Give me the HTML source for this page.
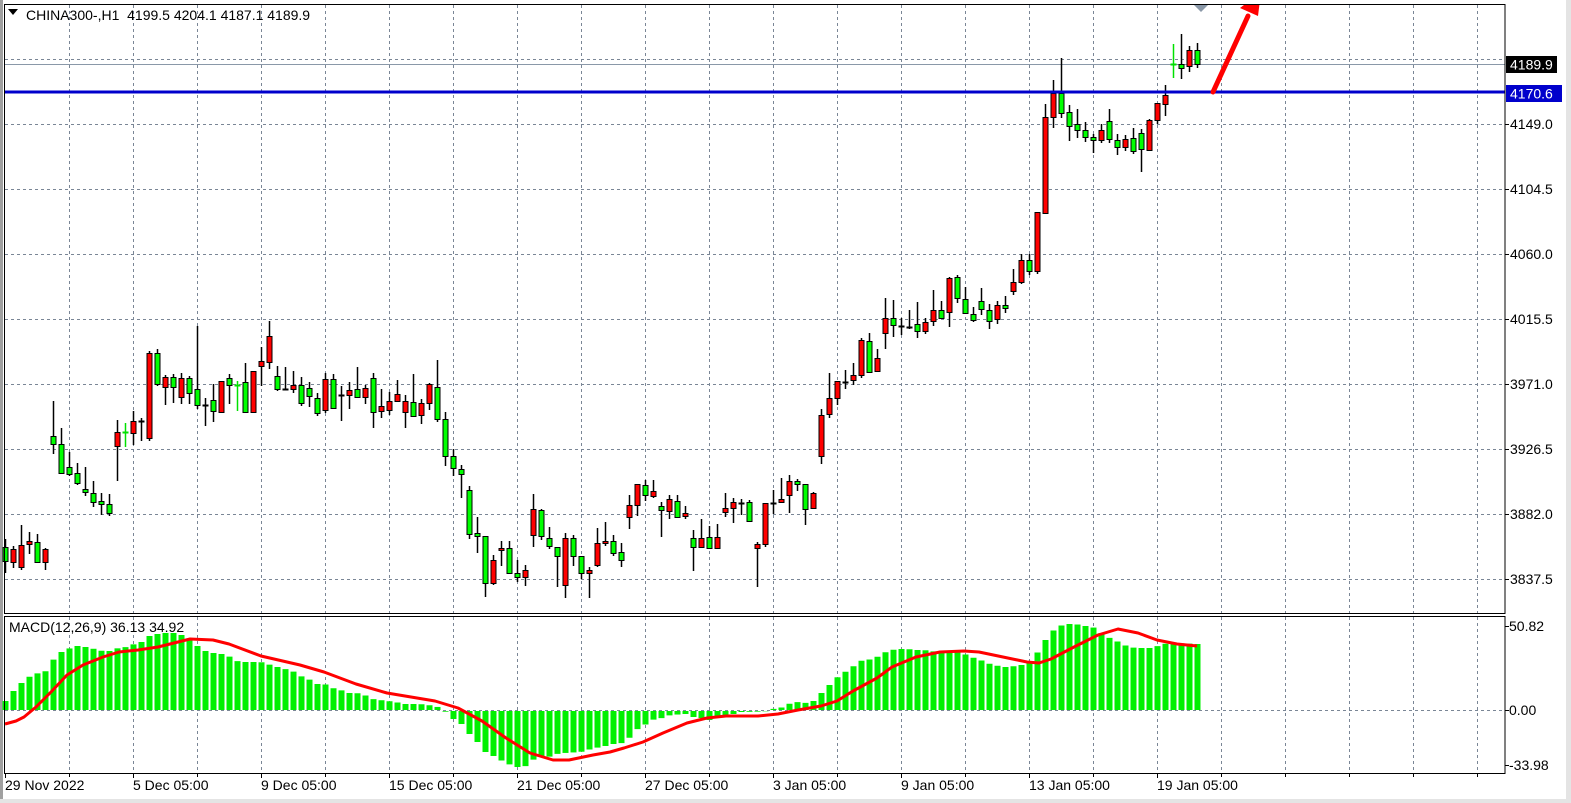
<!DOCTYPE html>
<html><head><meta charset="utf-8"><style>
html,body{margin:0;padding:0;background:#fff;}
svg{display:block;font-family:"Liberation Sans",Tahoma,sans-serif;}
</style></head><body>
<svg id="s" width="1571" height="803" xmlns="http://www.w3.org/2000/svg"></svg>
<script>
const s=document.getElementById('s');
let out='';
out+='<rect x="0" y="0" width="1571" height="803" fill="#fff"/>';
out+='<rect x="0" y="0" width="3" height="803" fill="#a0a0a0"/>';
out+='<rect x="1566" y="0" width="5" height="803" fill="#e4e4e4"/>';
out+='<rect x="0" y="799" width="1571" height="4" fill="#e4e4e4"/>';
const gc='#7a8696';
let g='';
for(let x=69;x<1505;x+=64){
  g+=`<line x1="${x+.5}" y1="5" x2="${x+.5}" y2="613" stroke="${gc}" stroke-dasharray="3,3"/>`;
  g+=`<line x1="${x+.5}" y1="617" x2="${x+.5}" y2="773" stroke="${gc}" stroke-dasharray="3,3"/>`;
}
[59,124,189,254,319,384,449,514,579].forEach(y=>{
  g+=`<line x1="5" y1="${y+.5}" x2="1505" y2="${y+.5}" stroke="${gc}" stroke-dasharray="3,3"/>`;
});
g+=`<line x1="5" y1="710.5" x2="1505" y2="710.5" stroke="${gc}" stroke-dasharray="3,3"/>`;
g+=`<line x1="5" y1="64.5" x2="1505" y2="64.5" stroke="#8a98a8"/>`;
out+=g;
const hk=[[5,9],[13,19],[22,28],[30,34],[38,37],[46,39],[54,52],[61,58],[70,62],[77,64],[85,63],[94,61],[102,59],[109,59],[118,62],[126,63],[134,66],[141,68],[149,74],[157,76],[165,77],[173,77],[181,75],[189,70],[197,64],[205,59],[213,57],[221,56],[228,54],[236,49],[244,48],[260,48],[277,43],[292,39],[300,34],[308,31],[316,26],[324,26],[332,22],[340,20],[348,17],[356,17],[364,15],[372,11],[379,10],[387,9],[395,8],[403,6],[419,6],[427,5],[435,4],[445,-0.7],[453,-8],[461,-13],[469,-23],[477,-31],[485,-41],[493,-45],[500,-49],[508,-53],[516,-56],[524,-56],[532,-49],[540,-46],[548,-46],[556,-43],[564,-42],[580,-41],[587,-39],[595,-37],[605,-35],[613,-33],[622,-32],[630,-26],[638,-17],[646,-13],[654,-8],[662,-7],[670,-4],[685,-3],[693,-6],[701,-7],[709,-9],[717,-6],[725,-4],[733,-3],[741,-1],[764,-0.5],[772,1],[780,2],[788,6],[796,8],[804,7],[812,8],[820,16],[828,24],[836,32],[843,37],[851,42],[859,49],[867,50],[875,52],[883,57],[891,60],[899,61],[907,61],[915,60],[923,60],[930,59],[938,58],[946,59],[954,58],[962,57],[970,53],[978,51],[986,47],[994,45],[1002,43],[1010,43],[1018,45],[1025,45],[1033,51],[1041,64],[1049,76],[1057,83],[1065,86],[1073,86],[1081,85],[1089,83],[1096,82],[1104,74],[1112,71],[1120,67],[1128,63],[1136,62],[1152,62],[1160,65],[1168,67],[1176,66],[1184,67],[1192,66],[1197,66]];
function interp(x){for(let i=0;i<hk.length-1;i++){if(x>=hk[i][0]&&x<=hk[i+1][0]){const t=(x-hk[i][0])/(hk[i+1][0]-hk[i][0]);return hk[i][1]+t*(hk[i+1][1]-hk[i][1]);}}return hk[hk.length-1][1];}
for(let k=0;k<150;k++){const x=5+8*k;const h=interp(x);
  if(h>=0) out+=`<rect x="${x-2.5}" y="${710-h}" width="6" height="${Math.max(h,1)}" fill="#00f000"/>`;
  else out+=`<rect x="${x-2.5}" y="711" width="6" height="${-h}" fill="#00f000"/>`;}
const sg=[[5,724],[16,721],[24,717],[36,707],[51,692],[67,675],[83,665],[103,657],[119,652],[138,650],[158,647],[174,643],[190,639],[213,640],[229,644],[261,656],[300,665],[324,672],[356,684],[387,693],[435,701],[458,708],[482,721],[506,738],[530,753],[553,760],[569,760],[593,755],[610,752],[624,748],[643,742],[663,733],[687,723],[707,718],[726,716],[758,716],[778,714],[798,710],[821,706],[837,701],[853,691],[877,678],[892,667],[916,657],[940,652],[964,651],[979,652],[1003,657],[1027,662],[1039,663],[1051,659],[1074,647],[1098,635],[1118,629],[1138,633],[1157,640],[1177,644],[1197,646]];
out+=`<polyline points="${sg.map(p=>p.join(',')).join(' ')}" fill="none" stroke="#ff0000" stroke-width="3" stroke-linejoin="round"/>`;
const C=[[5,539,573,547,561,'g'],[13,546,568,549,562,'r'],[21,525,570,545,567,'r'],[29,532,554,541,544,'r'],[37,534,562,542,562,'g'],[45,548,570,549,562,'r'],
[53,401,454,436,444,'g'],[61,428,474,444,473,'g'],[69,452,476,467,474,'g'],[77,463,485,473,483,'g'],[85,467,496,489,492,'g'],[93,481,507,493,502,'g'],[101,493,515,501,504,'g'],[109,494,516,504,513,'g'],[117,420,481,432,446,'r'],[125,423,447,432,432,'l'],[133,411,445,421,433,'r'],[141,418,441,421,421,'k'],[149,351,441,353,438,'r'],[157,349,386,353,384,'g'],[165,375,405,377,387,'r'],[173,374,403,377,387,'g'],[181,373,404,378,397,'r'],[189,376,404,378,393,'g'],[197,326,409,389,405,'g'],[205,398,426,405,405,'k'],[213,384,422,400,411,'g'],[221,381,413,381,412,'r'],[229,374,404,378,385,'g'],[237,381,411,385,385,'l'],[245,363,412,382,412,'g'],[253,371,413,371,412,'r'],[261,347,386,361,366,'r'],[269,321,369,336,362,'r'],[277,366,391,376,389,'g'],[285,367,390,389,389,'k'],[293,371,393,385,389,'r'],
[301,377,406,385,403,'g'],[309,382,407,388,396,'g'],[317,393,416,398,413,'g'],[325,373,413,379,410,'r'],[333,374,408,379,408,'g'],[341,386,421,395,395,'k'],[349,382,409,390,395,'r'],[357,367,397,389,397,'g'],[365,385,404,388,397,'r'],[373,373,428,378,412,'g'],[381,389,418,406,411,'r'],[389,392,415,401,410,'r'],[397,380,401,394,401,'r'],[405,395,428,401,412,'r'],[413,374,416,402,416,'g'],[421,399,424,403,415,'r'],[429,383,410,384,403,'r'],[437,360,422,387,419,'g'],[445,412,466,419,456,'g'],[453,449,476,456,468,'g'],[461,465,498,469,474,'g'],[469,486,539,490,534,'g'],[477,517,553,533,536,'g'],[485,536,597,536,583,'g'],[493,555,585,560,583,'r'],[501,541,566,548,550,'r'],[509,541,574,548,573,'g'],[517,560,582,573,577,'g'],[525,565,586,570,577,'r'],[533,494,547,509,535,'r'],[541,509,540,510,536,'g'],[549,527,549,538,546,'g'],[557,547,587,547,556,'g'],[565,533,598,538,585,'r'],[573,535,566,538,556,'g'],[581,556,579,556,573,'g'],[589,567,598,570,573,'r'],
[597,528,567,543,565,'r'],[605,522,546,541,543,'r'],[613,535,556,541,553,'g'],[621,543,567,552,560,'g'],[629,495,529,505,517,'r'],[637,484,516,484,505,'r'],[645,480,501,485,495,'g'],[653,480,498,491,496,'r'],[661,502,537,506,510,'g'],[669,495,519,499,511,'r'],[677,495,518,501,517,'g'],[685,506,519,513,516,'r'],[693,530,571,538,547,'g'],[701,519,547,538,547,'r'],[709,526,549,537,548,'g'],[717,524,549,537,548,'r'],[725,493,517,508,512,'r'],[733,498,523,502,508,'r'],[741,499,515,503,503,'k'],[749,500,521,502,521,'g'],[757,542,587,544,548,'r'],[765,503,547,503,544,'r'],[773,490,514,503,503,'k'],[781,478,502,499,502,'r'],[789,475,513,481,495,'r'],[797,479,491,481,484,'g'],[805,484,525,484,509,'g'],[813,492,509,493,508,'r'],[821,409,464,415,456,'r'],[829,373,418,398,414,'r'],[837,381,405,381,398,'r'],[845,370,389,382,382,'k'],[853,363,385,375,380,'r'],
[861,338,378,340,375,'r'],[869,333,373,341,372,'g'],[877,349,372,358,371,'r'],[885,298,349,318,333,'r'],[893,300,337,318,325,'g'],[901,318,335,326,326,'k'],[909,310,329,327,327,'k'],[917,302,338,324,331,'g'],[925,318,334,322,331,'r'],[933,290,326,310,321,'r'],[941,301,319,310,318,'g'],[949,277,327,278,312,'r'],[957,275,303,277,298,'g'],[965,287,314,299,313,'g'],[973,307,322,314,320,'g'],[981,288,315,301,309,'g'],[989,304,329,310,321,'g'],[997,301,324,305,319,'r'],[1005,296,313,305,308,'g'],[1013,269,295,282,291,'r'],[1021,254,284,260,282,'r'],[1029,254,275,260,271,'g'],[1037,212,274,212,271,'r'],[1045,104,213,117,213,'r'],[1053,80,128,93,117,'r'],[1061,58,118,93,113,'g'],[1069,105,141,112,126,'g'],[1077,109,138,124,130,'g'],[1085,122,142,130,137,'g'],[1093,134,153,137,140,'g'],[1101,124,143,130,140,'r'],[1109,109,143,121,139,'g'],[1117,134,155,140,147,'g'],[1125,135,151,139,147,'r'],[1133,128,154,138,151,'g'],[1141,129,172,133,149,'g'],[1149,119,150,120,150,'r'],[1157,106,124,103,120,'r'],[1165,85,116,95,104,'r'],[1173,44,78,64,64,'l'],[1181,34,79,64,68,'g'],[1189,46,72,50,66,'r'],[1197,43,68,50,64,'g']];
C.forEach(([x,wt,wb,bt,bb,c])=>{
  const wcol=c==='l'?'#00e000':'#000';
  out+=`<line x1="${x+.5}" y1="${wt}" x2="${x+.5}" y2="${wb}" stroke="${wcol}" stroke-width="1.5"/>`;
  if(c==='l'||c==='k'){out+=`<line x1="${x-2.5}" y1="${bt+.5}" x2="${x+3.5}" y2="${bt+.5}" stroke="${wcol}" stroke-width="2"/>`;}
  else{const h=Math.max(bb-bt,2);out+=`<rect x="${x-2}" y="${bt+.5}" width="5" height="${h}" fill="${c==='r'?'#ff0000':'#00ff00'}" stroke="#000" stroke-width="1"/>`;}
});
out+='<rect x="5" y="90.5" width="1500" height="3" fill="#0000cc"/>';
out+='<clipPath id="cp"><rect x="5" y="5" width="1500" height="608"/></clipPath>';
out+='<g clip-path="url(#cp)"><line x1="1213" y1="92" x2="1248" y2="16" stroke="#ff0000" stroke-width="5" stroke-linecap="round"/><polygon points="1240,8 1261,-8 1258,16" fill="#ff0000"/></g>';
out+='<polygon points="1194,5 1208,5 1201,12" fill="#8a98a8"/>';
out+='<rect x="4.5" y="4.5" width="1500.5" height="609" fill="none" stroke="#000"/>';
out+='<rect x="4.5" y="616.5" width="1500.5" height="157" fill="none" stroke="#000"/>';
const pl=[[124,'4149.0'],[189,'4104.5'],[254,'4060.0'],[319,'4015.5'],[384,'3971.0'],[449,'3926.5'],[514,'3882.0'],[579,'3837.5']];
pl.forEach(([y,t])=>{out+=`<line x1="1505" y1="${y+.5}" x2="1509" y2="${y+.5}" stroke="#000"/><text x="1510" y="${y+5}" font-size="14" fill="#000">${t}</text>`;});
out+='<rect x="1506" y="56" width="51" height="17" fill="#000"/><text x="1510" y="69.5" font-size="14" fill="#fff">4189.9</text>';
out+='<rect x="1506" y="85" width="56" height="17" fill="#0000cc"/><text x="1510" y="98.5" font-size="14" fill="#fff">4170.6</text>';
[[626,'50.82'],[710,'0.00'],[765,'-33.98']].forEach(([y,t])=>{out+=`<line x1="1505" y1="${y+.5}" x2="1509" y2="${y+.5}" stroke="#000"/><text x="1509" y="${y+5}" font-size="14" fill="#000">${t}</text>`;});
const tl=[[5,'29 Nov 2022'],[133,'5 Dec 05:00'],[261,'9 Dec 05:00'],[389,'15 Dec 05:00'],[517,'21 Dec 05:00'],[645,'27 Dec 05:00'],[773,'3 Jan 05:00'],[901,'9 Jan 05:00'],[1029,'13 Jan 05:00'],[1157,'19 Jan 05:00']];
tl.forEach(([x,t])=>{out+=`<line x1="${x+.5}" y1="774" x2="${x+.5}" y2="778" stroke="#000"/><text x="${x}" y="790" font-size="14" fill="#000">${t}</text>`;});
for(let x=69;x<1505;x+=64){out+=`<line x1="${x+.5}" y1="774" x2="${x+.5}" y2="777" stroke="#000"/>`;}
out+='<polygon points="8,9 18,9 13,15" fill="#000"/>';
out+='<text x="26" y="20" font-size="14" fill="#000" xml:space="preserve">CHINA300-,H1  4199.5 4204.1 4187.1 4189.9</text>';
out+='<text x="9" y="632" font-size="14" fill="#000">MACD(12,26,9) 36.13 34.92</text>';
s.innerHTML=out;
</script>
</body></html>
